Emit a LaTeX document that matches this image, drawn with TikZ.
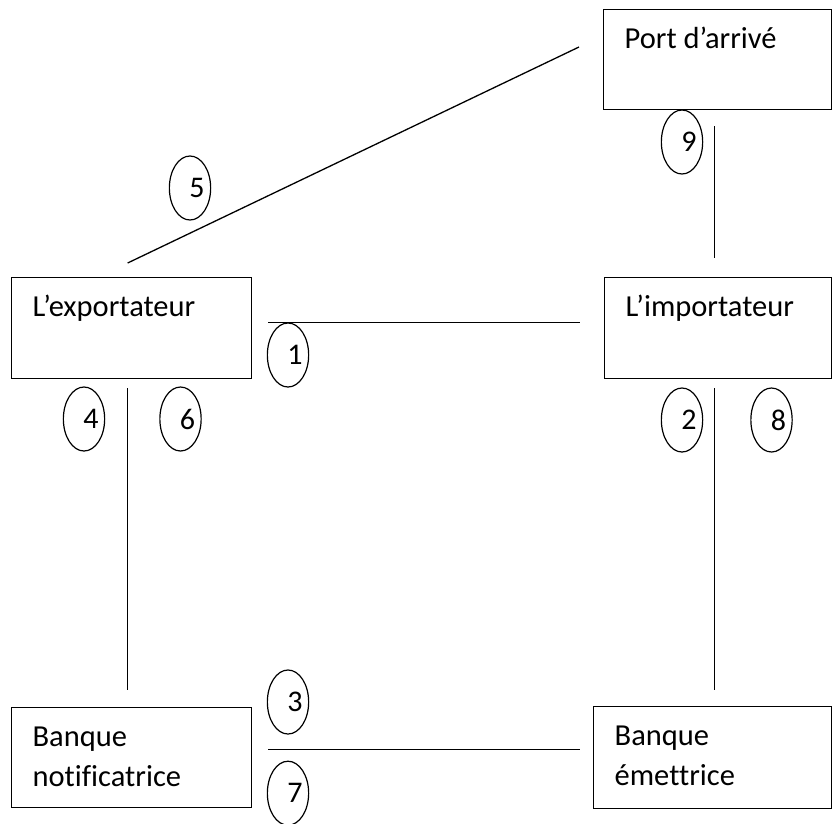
\documentclass[tikz,border=0pt]{standalone}
\usepackage{fontspec}
\setmainfont{Carlito}[Ligatures=NoCommon]
\usepackage{tikz}
\usetikzlibrary{positioning,shapes.geometric}
\newcommand{\boxtext}[3]{\parbox[c][#2][t]{#1}{\strut #3}}
\newcommand{\stepno}[1]{\hspace*{14pt}\raisebox{-3pt}{#1}}
\tikzset{
  party/.style  ={ draw=black, line width=1.3pt, inner xsep=21pt, inner ysep=11pt,
                   anchor=north west, font=\fontsize{30.5}{40}\selectfont },
  stepnum/.style={ ellipse, draw=black, line width=1.2pt, inner sep=0pt,
                   minimum width=41pt, minimum height=64pt, font=\fontsize{30}{34}\selectfont },
  link/.style   ={ draw=black, line width=1.3pt }
}

\begin{document}
\begin{tikzpicture}[x=1pt,y=-1pt]
\useasboundingbox (0,0) rectangle (832,823);

\node[party] (port)  at (603,9)   {\boxtext{186pt}{78pt}{Port d’arrivé}};
\node[party] (expo)  at (11,277)  {\boxtext{198pt}{79pt}{L’exportateur}};
\node[party] (impo)  at (604,277) {\boxtext{185pt}{79pt}{L’importateur}};
\node[party] (notif) at (11,707)  {\boxtext{198pt}{78pt}{Banque\\notificatrice}};
\node[party] (emet)  at (593,706) {\boxtext{196pt}{80pt}{Banque\\émettrice}};

\node[stepnum] (n5) at (190,188) {\stepno{5}};
\node[stepnum] (n9) at (682,142) {\stepno{9}};
\node[stepnum] (n1) at (288,355) {\stepno{1}};
\node[stepnum] (n4) at (84,419)  {\stepno{4}};
\node[stepnum] (n6) [right=54pt of n4] {\stepno{6}};
\node[stepnum] (n2) at (682,420) {\stepno{2}};
\node[stepnum] (n8) [right=47pt of n2] {\stepno{8}};
\node[stepnum] (n3) at (288,702) {\stepno{3}};
\node[stepnum] (n7) [below=26pt of n3] {\stepno{7}};

\draw[link] ([shift={(-4,-14)}]expo.north) -- ([shift={(-24,38)}]port.north west);
\draw[link] ([shift={(-3.5,16)}]port.south) -- ([shift={(-4,-19)}]impo.north);
\draw[link] ([shift={(16,-6)}]expo.east) -- ([shift={(-24,-6)}]impo.west);
\draw[link] ([shift={(-4,9)}]expo.south) -- ([shift={(-4,-17)}]notif.north);
\draw[link] ([shift={(-4,9)}]impo.south) -- ([shift={(1.5,-16)}]emet.north);
\draw[link] ([shift={(16,-8)}]notif.east) -- ([shift={(-13,-8)}]emet.west);

\end{tikzpicture}
\end{document}
